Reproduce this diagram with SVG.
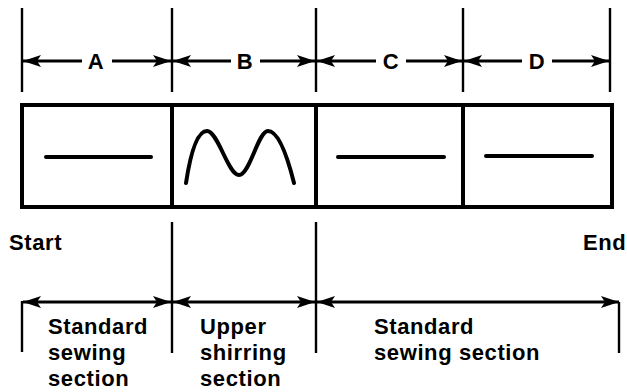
<svg xmlns="http://www.w3.org/2000/svg" width="627" height="392" viewBox="0 0 627 392">
<style>
.t{font-family:"Liberation Sans",Arial,sans-serif;font-weight:bold;font-size:22px;fill:#000;letter-spacing:0.6px}
.tk{stroke:#000;stroke-width:2.4;fill:none}
.ar{stroke:#000;stroke-width:3;fill:none}
.box{stroke:#000;stroke-width:4;fill:#fff}
.st{stroke:#000;stroke-width:4;stroke-linecap:round;fill:none}
</style>
<defs>
<marker id="ah" viewBox="0 0 18 12" refX="18" refY="6" markerWidth="18" markerHeight="12" markerUnits="userSpaceOnUse" orient="auto-start-reverse">
<path d="M0,0 L18,6 L0,12 L4,6 Z" fill="#000"/>
</marker>
</defs>
<rect width="627" height="392" fill="#fff"/>
<g id="connectors">
<line class="tk" x1="22" y1="8" x2="22" y2="92"/>
<line class="tk" x1="172" y1="8" x2="172" y2="92"/>
<line class="tk" x1="316" y1="8" x2="316" y2="92"/>
<line class="tk" x1="463" y1="8" x2="463" y2="92"/>
<line class="tk" x1="610" y1="8" x2="610" y2="92"/>
<line class="ar" x1="82" y1="61" x2="23" y2="61" marker-end="url(#ah)"/>
<line class="ar" x1="112" y1="61" x2="171" y2="61" marker-end="url(#ah)"/>
<line class="ar" x1="231" y1="61" x2="173" y2="61" marker-end="url(#ah)"/>
<line class="ar" x1="260" y1="61" x2="315" y2="61" marker-end="url(#ah)"/>
<line class="ar" x1="376" y1="61" x2="317" y2="61" marker-end="url(#ah)"/>
<line class="ar" x1="406" y1="61" x2="462" y2="61" marker-end="url(#ah)"/>
<line class="ar" x1="522" y1="61" x2="464" y2="61" marker-end="url(#ah)"/>
<line class="ar" x1="552" y1="61" x2="609" y2="61" marker-end="url(#ah)"/>
<line class="tk" x1="172" y1="222" x2="172" y2="353"/>
<line class="tk" x1="316" y1="222" x2="316" y2="353"/>
<line class="tk" x1="22" y1="301" x2="22" y2="352"/>
<line class="tk" x1="619" y1="302" x2="619" y2="353"/>
<line class="ar" x1="23" y1="302" x2="171" y2="302" marker-start="url(#ah)" marker-end="url(#ah)"/>
<line class="ar" x1="173" y1="302" x2="315" y2="302" marker-start="url(#ah)" marker-end="url(#ah)"/>
<line class="ar" x1="317" y1="302" x2="619" y2="302" marker-start="url(#ah)" marker-end="url(#ah)"/>
</g>
<g id="labels">
<text class="t" x="96" y="68.5" text-anchor="middle">A</text>
<text class="t" x="245" y="68.5" text-anchor="middle">B</text>
<text class="t" x="391" y="68.5" text-anchor="middle">C</text>
<text class="t" x="537" y="68.5" text-anchor="middle">D</text>
</g>
<g id="sectionA">
<rect class="box" x="22" y="105" width="150" height="102"/>
<line class="st" x1="46" y1="157" x2="151" y2="157"/>
</g>
<g id="sectionB">
<rect class="box" x="172" y="105" width="144" height="102"/>
<path class="st" d="M186,183 C191,150 198,131 207,131 C218,131 228,175 239,175 C250,175 258,131 268,131 C278,131 287,155 294,183"/>
</g>
<g id="sectionC">
<rect class="box" x="316" y="105" width="147" height="102"/>
<line class="st" x1="338" y1="157" x2="444" y2="157"/>
</g>
<g id="sectionD">
<rect class="box" x="463" y="105" width="149" height="102"/>
<line class="st" x1="486" y1="156" x2="592" y2="156"/>
</g>
<g id="start"><text class="t" x="9" y="250">Start</text></g>
<g id="end"><text class="t" x="583" y="250">End</text></g>
<g id="std1"><text class="t" x="48" y="334"><tspan x="48">Standard</tspan><tspan x="48" dy="26">sewing</tspan><tspan x="48" dy="26">section</tspan></text></g>
<g id="upper"><text class="t" x="200" y="334"><tspan x="200">Upper</tspan><tspan x="200" dy="26">shirring</tspan><tspan x="200" dy="26">section</tspan></text></g>
<g id="std2"><text class="t" x="374" y="334"><tspan x="374">Standard</tspan><tspan x="374" dy="26">sewing section</tspan></text></g>
</svg>
